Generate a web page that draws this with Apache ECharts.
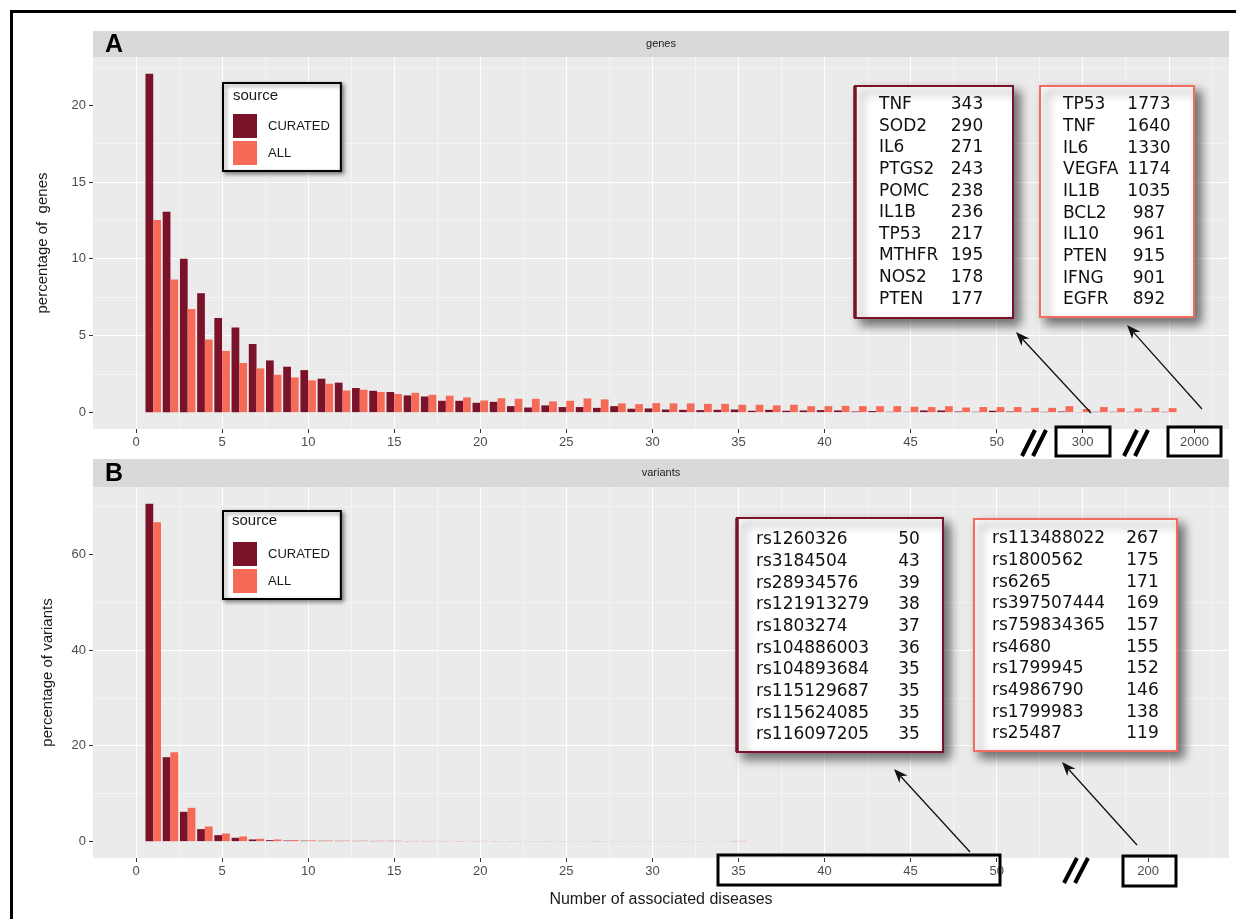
<!DOCTYPE html>
<html>
<head>
<meta charset="utf-8">
<script src="https://cdn.jsdelivr.net/npm/echarts@6/dist/echarts.min.js"></script>
<style>
  html, body { margin: 0; padding: 0; background: #fff; }
  #chart { width: 1236px; height: 919px; }
</style>
</head>
<body>
<div id="chart"></div>
<script>
// number of associated diseases (x) -> percentage of genes / variants
const geneDiseaseCounts = [1, 2, 3, 4, 5, 6, 7, 8, 9, 10, 11, 12, 13, 14, 15, 16, 17, 18, 19, 20,
  21, 22, 23, 24, 25, 26, 27, 28, 29, 30, 31, 32, 33, 34, 35, 36, 37, 38, 39, 40,
  41, 42, 43, 44, 45, 46, 47, 48, 49, 50, 51, 52, 53, 54, 55, 56, 57, 58, 59, 60];
const genesCurated = [22.05, 13.07, 10.0, 7.75, 6.14, 5.51, 4.44, 3.37, 2.96, 2.74,
  2.18, 1.92, 1.57, 1.39, 1.31, 1.09, 1.02, 0.74, 0.74, 0.61,
  0.67, 0.39, 0.30, 0.44, 0.33, 0.33, 0.28, 0.39, 0.22, 0.24,
  0.17, 0.15, 0.13, 0.15, 0.17, 0.09, 0.15, 0.09, 0.11, 0.13,
  0.11, 0.04, 0.07, 0.02, 0.02, 0.11, 0.11, 0.04, 0.02, 0.09,
  0.04, 0.02, 0.02, 0.04, 0.01, 0.02, 0.02, 0.02, 0.02, 0.02];
const genesAll = [12.52, 8.65, 6.73, 4.73, 3.99, 3.20, 2.85, 2.44, 2.26, 2.07,
  1.85, 1.41, 1.46, 1.31, 1.18, 1.26, 1.13, 1.07, 0.96, 0.76,
  0.91, 0.87, 0.87, 0.70, 0.74, 0.89, 0.83, 0.57, 0.52, 0.59,
  0.57, 0.57, 0.54, 0.54, 0.48, 0.48, 0.44, 0.48, 0.39, 0.39,
  0.41, 0.39, 0.39, 0.39, 0.35, 0.33, 0.39, 0.30, 0.33, 0.33,
  0.33, 0.28, 0.28, 0.39, 0.20, 0.33, 0.26, 0.24, 0.28, 0.26];

const variantDiseaseCounts = [1, 2, 3, 4, 5, 6, 7, 8, 9, 10, 11, 12, 13, 14, 15, 16, 17, 18,
  19, 20, 21, 22, 23, 24, 25, 26, 27, 28, 29, 30, 31, 32, 33, 34, 35];
const variantsCurated = [70.6, 17.56, 6.13, 2.51, 1.25, 0.70, 0.35, 0.20, 0.12, 0.09,
  0.07, 0.06, 0.05, 0.04, 0.05, 0.03, 0.03, 0.02, 0.03, 0.02,
  0.02, 0.02, 0.01, 0.02, 0.01, 0.01, 0.02, 0.01, 0.01, 0.01,
  0.01, 0.01, 0.01, 0.01, 0.03];
const variantsAll = [66.7, 18.6, 6.97, 3.07, 1.60, 0.98, 0.49, 0.35, 0.22, 0.15,
  0.12, 0.10, 0.09, 0.08, 0.08, 0.06, 0.05, 0.04, 0.04, 0.04,
  0.03, 0.03, 0.03, 0.03, 0.02, 0.02, 0.02, 0.02, 0.02, 0.02,
  0.02, 0.02, 0.01, 0.02, 0.06];

// tick labels (the broken part of the axis gets relabelled)
const genesTickValues = [0, 5, 10, 15, 20, 25, 30, 35, 40, 45, 50, 55, 61.5];
const genesTickLabels = ['0', '5', '10', '15', '20', '25', '30', '35', '40', '45', '50', '300', '2000'];
const variantsTickValues = [0, 5, 10, 15, 20, 25, 30, 35, 40, 45, 50, 58.8];
const variantsTickLabels = ['0', '5', '10', '15', '20', '25', '30', '35', '40', '45', '50', '200'];
const genesYTicks = [0, 5, 10, 15, 20];
const variantsYTicks = [0, 20, 40, 60];

// top-10 tables
const curatedGenes = ['TNF', 'SOD2', 'IL6', 'PTGS2', 'POMC', 'IL1B', 'TP53', 'MTHFR', 'NOS2', 'PTEN'];
const curatedGeneCounts = [343, 290, 271, 243, 238, 236, 217, 195, 178, 177];
const allGenes = ['TP53', 'TNF', 'IL6', 'VEGFA', 'IL1B', 'BCL2', 'IL10', 'PTEN', 'IFNG', 'EGFR'];
const allGeneCounts = [1773, 1640, 1330, 1174, 1035, 987, 961, 915, 901, 892];
const curatedVariants = ['rs1260326', 'rs3184504', 'rs28934576', 'rs121913279', 'rs1803274',
  'rs104886003', 'rs104893684', 'rs115129687', 'rs115624085', 'rs116097205'];
const curatedVariantCounts = [50, 43, 39, 38, 37, 36, 35, 35, 35, 35];
const allVariants = ['rs113488022', 'rs1800562', 'rs6265', 'rs397507444', 'rs759834365',
  'rs4680', 'rs1799945', 'rs4986790', 'rs1799983', 'rs25487'];
const allVariantCounts = [267, 175, 171, 169, 157, 155, 152, 146, 138, 119];

const DARK = '#7a1229';
const LIGHT = '#f66a58';
const TICK_COLOR = '#333333';
const LABEL_COLOR = '#4d4d4d';

const chart = echarts.init(document.getElementById('chart'));

function gridXAxis(gridIndex) {
  return {
    type: 'value', gridIndex: gridIndex, position: 'bottom',
    min: -2.5, max: 63.5, minInterval: 5, maxInterval: 5,
    axisLine: { show: false, onZero: false }, axisTick: { show: false }, axisLabel: { show: false },
    splitLine: { show: true, showMinLine: false, showMaxLine: false, lineStyle: { color: '#ffffff', width: 1 } },
    minorTick: { show: false, splitNumber: 2 },
    minorSplitLine: { show: true, lineStyle: { color: '#f4f4f4', width: 1 } }
  };
}

function labelXAxis(gridIndex, values, labels) {
  return {
    type: 'value', gridIndex: gridIndex, position: 'bottom',
    min: -2.5, max: 63.5,
    axisLine: { show: false, onZero: false },
    splitLine: { show: false },
    axisTick: { show: true, length: 4, customValues: values, lineStyle: { color: TICK_COLOR } },
    axisLabel: {
      customValues: values, color: LABEL_COLOR, fontSize: 13, margin: 7,
      formatter: function (v) {
        const i = values.indexOf(v);
        return i >= 0 ? labels[i] : '';
      }
    }
  };
}

function yAxis(gridIndex, min, max, step, ticks, name, gap) {
  return {
    type: 'value', gridIndex: gridIndex, position: 'left', min: min, max: max,
    minInterval: step, maxInterval: step,
    name: name, nameLocation: 'middle', nameGap: gap,
    nameTextStyle: { fontSize: 15, color: '#1a1a1a' },
    axisLine: { show: false, onZero: false },
    axisTick: { show: true, length: 4, customValues: ticks, lineStyle: { color: TICK_COLOR } },
    axisLabel: { customValues: ticks, color: LABEL_COLOR, fontSize: 13, margin: 7 },
    splitLine: { show: true, showMinLine: false, showMaxLine: false, lineStyle: { color: '#ffffff', width: 1 } },
    minorTick: { show: false, splitNumber: 2 },
    minorSplitLine: { show: true, lineStyle: { color: '#f4f4f4', width: 1 } }
  };
}

function barSeries(name, color, xAxisIndex, yAxisIndex, xs, ys) {
  return {
    name: name, type: 'bar', xAxisIndex: xAxisIndex, yAxisIndex: yAxisIndex,
    barGap: '0%', barCategoryGap: '10%',
    itemStyle: { color: color },
    data: xs.map(function (x, i) { return [x, ys[i]]; })
  };
}

function legend(top) {
  return {
    left: 223, top: top, orient: 'vertical',
    data: ['CURATED', 'ALL'], icon: 'rect', selectedMode: false,
    itemWidth: 24, itemHeight: 24, itemGap: 3,
    padding: [31, 11, 6, 10],
    backgroundColor: '#ffffff', borderColor: '#000000', borderWidth: 2,
    shadowBlur: 4, shadowColor: 'rgba(0,0,0,0.45)', shadowOffsetX: 2, shadowOffsetY: 2,
    textStyle: { fontSize: 13, color: '#1a1a1a', padding: [0, 0, 0, 6] }
  };
}

// boxed table of top entries
function table(box, color, thickLeft, names, counts, nameX, numX, y0) {
  const els = [{
    type: 'rect', z: 100,
    shape: { x: box[0], y: box[1], width: box[2], height: box[3] },
    style: { fill: '#ffffff', stroke: color, lineWidth: 2, shadowBlur: 10,
      shadowColor: 'rgba(0,0,0,0.55)', shadowOffsetX: 6, shadowOffsetY: 6 }
  }];
  if (thickLeft) {
    els.push({ type: 'line', z: 101, shape: { x1: box[0], y1: box[1], x2: box[0], y2: box[1] + box[3] },
      style: { stroke: color, lineWidth: 3.5 } });
  }
  names.forEach(function (n, i) {
    const y = y0 + i * 21.65;
    els.push({ type: 'text', z: 101, style: { text: n, x: nameX, y: y, fontSize: 17,
      fontFamily: 'DejaVu Sans', fill: '#111111', align: 'left', verticalAlign: 'middle' } });
    els.push({ type: 'text', z: 101, style: { text: String(counts[i]), x: numX, y: y, fontSize: 17,
      fontFamily: 'DejaVu Sans', fill: '#111111', align: 'center', verticalAlign: 'middle' } });
  });
  return els;
}

function arrow(x1, y1, x2, y2) {
  const a = Math.atan2(y2 - y1, x2 - x1);
  const L = 14, W = 5.5;
  const bx = x2 - L * Math.cos(a), by = y2 - L * Math.sin(a);
  const nx = x2 - 0.7 * L * Math.cos(a), ny = y2 - 0.7 * L * Math.sin(a);
  const px = -Math.sin(a) * W, py = Math.cos(a) * W;
  return [
    { type: 'line', z: 100, shape: { x1: x1, y1: y1, x2: nx, y2: ny }, style: { stroke: '#111111', lineWidth: 1.3 } },
    { type: 'polygon', z: 100, shape: { points: [[x2, y2], [bx + px, by + py], [nx, ny], [bx - px, by - py]] },
      style: { fill: '#111111' } }
  ];
}

function slashes(x, yTop, yBot) {
  return [
    { type: 'line', z: 100, shape: { x1: x, y1: yBot, x2: x + 13, y2: yTop }, style: { stroke: '#000', lineWidth: 4 } },
    { type: 'line', z: 100, shape: { x1: x + 11, y1: yBot, x2: x + 24, y2: yTop }, style: { stroke: '#000', lineWidth: 4 } }
  ];
}

function box(x, y, w, h) {
  return { type: 'rect', z: 100, shape: { x: x, y: y, width: w, height: h },
    style: { fill: 'none', stroke: '#000000', lineWidth: 3 } };
}

function strip(y, h, letter, title) {
  return [
    { type: 'rect', z: 1, shape: { x: 93, y: y, width: 1136, height: h }, style: { fill: '#d9d9d9' } },
    { type: 'text', z: 2, style: { text: letter, x: 105, y: y + h / 2 + 1, fontSize: 25, fontWeight: 'bold',
      fontFamily: 'Liberation Sans', fill: '#000', verticalAlign: 'middle' } },
    { type: 'text', z: 2, style: { text: title, x: 661, y: y + h / 2, fontSize: 11,
      fontFamily: 'Liberation Sans', fill: '#1a1a1a', align: 'center', verticalAlign: 'middle' } }
  ];
}

const graphics = [].concat(
  [{ type: 'rect', z: 0, shape: { x: 11.5, y: 11.5, width: 1300, height: 1000 },
    style: { fill: 'none', stroke: '#000', lineWidth: 3 } }],
  strip(31, 26, 'A', 'genes'),
  strip(459, 28, 'B', 'variants'),
  [
    { type: 'text', z: 110, style: { text: 'source', x: 233, y: 96, fontSize: 15, fontFamily: 'Liberation Sans',
      fill: '#1a1a1a', verticalAlign: 'middle' } },
    { type: 'text', z: 110, style: { text: 'source', x: 232, y: 521, fontSize: 15, fontFamily: 'Liberation Sans',
      fill: '#1a1a1a', verticalAlign: 'middle' } }
  ],
  table([855, 86, 158, 232], DARK, true, curatedGenes, curatedGeneCounts, 879, 967, 104.5),
  table([1040, 86, 154, 231], '#f26d5e', false, allGenes, allGeneCounts, 1063, 1149, 105),
  table([737, 518, 206, 234], DARK, true, curatedVariants, curatedVariantCounts, 756, 909, 540),
  table([974, 519, 203, 232], '#f26d5e', false, allVariants, allVariantCounts, 992, 1142.5, 539),
  arrow(1091, 413, 1016, 332),
  arrow(1202, 409, 1127, 325),
  arrow(970, 852, 894, 769),
  arrow(1137, 845, 1062, 762),
  slashes(1022, 430, 456),
  slashes(1124, 430, 456),
  slashes(1064, 858, 883),
  [box(1056, 427, 54, 29), box(1168, 427, 53, 29), box(718, 855, 282, 30), box(1123, 856, 53, 30)]
);

const option = {
  animation: false,
  textStyle: { fontFamily: 'Liberation Sans, Arial, sans-serif' },
  grid: [
    { left: 93, top: 57, width: 1136, height: 372, show: true, backgroundColor: '#ebebeb', borderWidth: 0, containLabel: false },
    { left: 93, top: 487, width: 1136, height: 371, show: true, backgroundColor: '#ebebeb', borderWidth: 0, containLabel: false }
  ],
  legend: [legend(83), legend(511)],
  xAxis: [
    gridXAxis(0),
    labelXAxis(0, genesTickValues, genesTickLabels),
    gridXAxis(1),
    Object.assign(labelXAxis(1, variantsTickValues, variantsTickLabels), {
      name: 'Number of associated diseases', nameLocation: 'middle', nameGap: 34,
      nameTextStyle: { fontSize: 16, color: '#1a1a1a' }
    })
  ],
  yAxis: [
    yAxis(0, -1.1, 23.15, 5, genesYTicks, 'percentage of  genes', 43),
    yAxis(1, -3.53, 74.1, 20, variantsYTicks, 'percentage of variants', 38)
  ],
  series: [
    barSeries('CURATED', DARK, 0, 0, geneDiseaseCounts, genesCurated),
    barSeries('ALL', LIGHT, 0, 0, geneDiseaseCounts, genesAll),
    barSeries('CURATED', DARK, 2, 1, variantDiseaseCounts, variantsCurated),
    barSeries('ALL', LIGHT, 2, 1, variantDiseaseCounts, variantsAll)
  ],
  graphic: { elements: graphics }
};

chart.setOption(option);
</script>
</body>
</html>
